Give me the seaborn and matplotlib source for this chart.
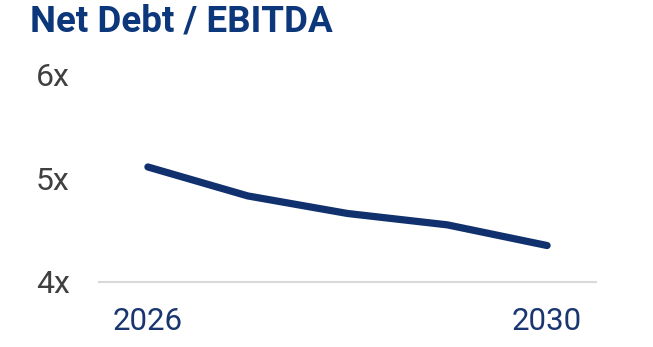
import matplotlib
matplotlib.use("Agg")
import matplotlib.pyplot as plt
import seaborn as sns
import pandas as pd

years = [2026, 2027, 2028, 2029, 2030]
net_debt_ebitda = [5.11, 4.83, 4.66, 4.55, 4.35]
y_ticks = [4, 5, 6]
y_tick_labels = ["4x", "5x", "6x"]
x_ticks = [2026, 2030]
x_tick_labels = ["2026", "2030"]
title = "Net Debt / EBITDA"

sns.set_theme(style="white")
plt.rcParams["font.family"] = ["Roboto", "DejaVu Sans"]

df = pd.DataFrame({"year": years, "ratio": net_debt_ebitda})

fig = plt.figure(figsize=(6.53, 3.47), dpi=100)
ax = fig.add_axes([0.1516, 0.1882, 0.7611, 0.5957])

sns.lineplot(data=df, x="year", y="ratio", ax=ax, color="#10316d",
             linewidth=5.2, solid_capstyle="round", solid_joinstyle="round")

ax.set_xlim(2025.51, 2030.49)
ax.set_ylim(4, 6)
ax.set_yticks(y_ticks)
ax.set_yticklabels(y_tick_labels)
ax.set_xticks(x_ticks)
ax.set_xticklabels(x_tick_labels)
ax.set_xlabel("")
ax.set_ylabel("")

for s in ["top", "right", "left"]:
    ax.spines[s].set_visible(False)
ax.spines["bottom"].set_color("#d9d9d9")
ax.spines["bottom"].set_linewidth(1.5)

ax.tick_params(axis="y", length=0, pad=21, labelsize=23, labelcolor="#404040")
ax.tick_params(axis="x", length=0, pad=18, labelsize=22.5, labelcolor="#1a3670")

fig.text(30 / 653, 1 - 22 / 347, title, fontsize=26.5, fontweight="bold",
         color="#0c377a", ha="left", va="center")

fig.savefig("out.png", dpi=100)
